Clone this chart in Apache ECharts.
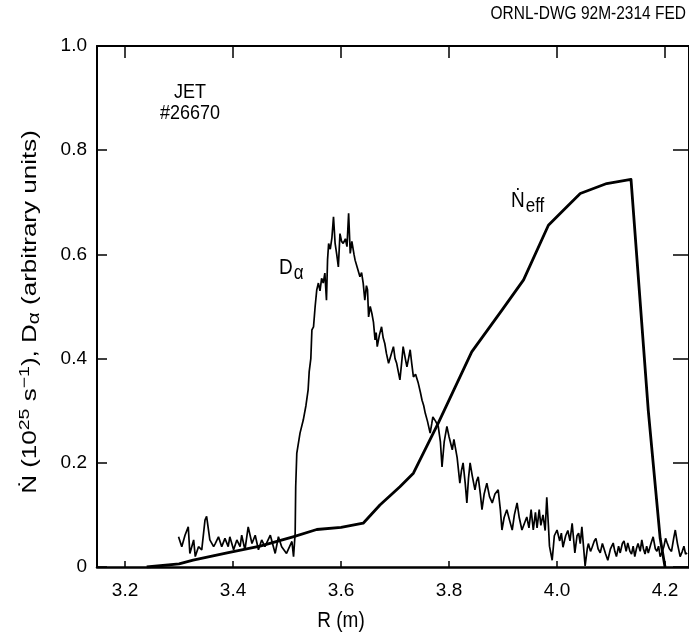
<!DOCTYPE html>
<html>
<head>
<meta charset="utf-8">
<script src="https://cdn.jsdelivr.net/npm/echarts@6/dist/echarts.min.js"></script>
<style>
html,body{margin:0;padding:0;background:#fff;}
#c{width:689px;height:635px;}
</style>
</head>
<body>
<div id="c"></div>
<script>
// ---- data ----
const xTicks = [3.2, 3.4, 3.6, 3.8, 4.0, 4.2];
const yTicks = [0, 0.2, 0.4, 0.6, 0.8, 1.0];

// N_eff (thick curve)
const rN   = [3.24, 3.30, 3.326, 3.389, 3.45, 3.511, 3.555, 3.60, 3.641, 3.672, 3.709, 3.734, 3.780, 3.842, 3.898, 3.938, 3.984, 4.009, 4.043, 4.092, 4.137, 4.169, 4.191, 4.200];
const nEff = [0.000, 0.006, 0.013, 0.027, 0.040, 0.058, 0.072, 0.076, 0.084, 0.119, 0.154, 0.180, 0.276, 0.413, 0.493, 0.551, 0.656, 0.682, 0.717, 0.736, 0.744, 0.300, 0.055, 0.000];

// D_alpha (noisy trace): R values and intensities
const rD = [
  3.299, 3.305, 3.311, 3.317, 3.320, 3.327, 3.330, 3.336, 3.342, 3.348, 3.351, 3.357, 3.364, 3.367, 3.373, 3.379, 3.385, 3.391, 3.394, 3.401,
  3.407, 3.413, 3.416, 3.422, 3.428, 3.435, 3.441, 3.447, 3.453, 3.459, 3.469, 3.478, 3.484, 3.490, 3.499, 3.509, 3.512, 3.515, 3.516, 3.518,
  3.524, 3.530, 3.535, 3.539, 3.541, 3.544, 3.546, 3.549, 3.552, 3.555, 3.558, 3.561, 3.564, 3.567, 3.570, 3.573, 3.575, 3.577, 3.580, 3.583,
  3.586, 3.589, 3.592, 3.595, 3.598, 3.601, 3.604, 3.608, 3.611, 3.614, 3.617, 3.620, 3.622, 3.624, 3.626, 3.630, 3.635, 3.638, 3.641, 3.644,
  3.647, 3.649, 3.651, 3.654, 3.657, 3.660, 3.663, 3.665, 3.667, 3.671, 3.675, 3.678, 3.681, 3.684, 3.688, 3.692, 3.697, 3.700, 3.703, 3.706,
  3.709, 3.712, 3.715, 3.719, 3.722, 3.725, 3.728, 3.731, 3.734, 3.738, 3.743, 3.747, 3.750, 3.753, 3.756, 3.760, 3.765, 3.768, 3.770, 3.775,
  3.780, 3.784, 3.787, 3.791, 3.796, 3.800, 3.806, 3.809, 3.811, 3.815, 3.820, 3.823, 3.826, 3.830, 3.833, 3.836, 3.839, 3.843, 3.848, 3.851,
  3.854, 3.858, 3.861, 3.865, 3.870, 3.875, 3.880, 3.885, 3.891, 3.895, 3.898, 3.902, 3.907, 3.912, 3.917, 3.921, 3.926, 3.930, 3.935, 3.940,
  3.944, 3.948, 3.952, 3.956, 3.960, 3.963, 3.967, 3.970, 3.974, 3.978, 3.981, 3.984, 3.986, 3.991, 3.995, 4.000, 4.005, 4.008, 4.011, 4.016,
  4.020, 4.024, 4.028, 4.033, 4.037, 4.040, 4.043, 4.046, 4.049, 4.052, 4.056, 4.058, 4.062, 4.065, 4.069, 4.072, 4.076, 4.080, 4.084, 4.087,
  4.090, 4.094, 4.099, 4.104, 4.107, 4.110, 4.114, 4.117, 4.121, 4.124, 4.128, 4.131, 4.135, 4.138, 4.141, 4.144, 4.147, 4.150, 4.154, 4.157,
  4.160, 4.163, 4.166, 4.169, 4.174, 4.178, 4.182, 4.185, 4.188, 4.191, 4.195, 4.198, 4.201, 4.204, 4.208, 4.212, 4.216, 4.219, 4.223, 4.228,
  4.232, 4.235, 4.238, 4.241];
const dA = [
  0.058, 0.039, 0.061, 0.077, 0.026, 0.052, 0.020, 0.039, 0.033, 0.090, 0.097, 0.052, 0.039, 0.045, 0.058, 0.039, 0.055, 0.039, 0.058, 0.033,
  0.052, 0.039, 0.061, 0.033, 0.077, 0.045, 0.061, 0.033, 0.052, 0.039, 0.061, 0.026, 0.058, 0.039, 0.026, 0.049, 0.020, 0.065, 0.154, 0.218,
  0.257, 0.282, 0.310, 0.340, 0.375, 0.400, 0.455, 0.461, 0.500, 0.532, 0.545, 0.530, 0.554, 0.545, 0.564, 0.512, 0.590, 0.621, 0.610, 0.631,
  0.672, 0.621, 0.600, 0.576, 0.640, 0.625, 0.621, 0.630, 0.615, 0.679, 0.602, 0.625, 0.628, 0.600, 0.589, 0.575, 0.557, 0.565, 0.545, 0.512,
  0.540, 0.532, 0.480, 0.500, 0.487, 0.470, 0.436, 0.450, 0.423, 0.445, 0.461, 0.440, 0.429, 0.410, 0.391, 0.405, 0.423, 0.400, 0.391, 0.375,
  0.359, 0.390, 0.423, 0.400, 0.384, 0.400, 0.417, 0.390, 0.365, 0.370, 0.353, 0.335, 0.320, 0.310, 0.295, 0.280, 0.257, 0.275, 0.288, 0.280,
  0.270, 0.240, 0.192, 0.240, 0.270, 0.250, 0.225, 0.245, 0.244, 0.210, 0.161, 0.185, 0.200, 0.160, 0.123, 0.170, 0.200, 0.175, 0.148, 0.165,
  0.173, 0.140, 0.110, 0.140, 0.161, 0.135, 0.123, 0.140, 0.148, 0.110, 0.071, 0.095, 0.110, 0.090, 0.071, 0.100, 0.123, 0.095, 0.071, 0.085,
  0.096, 0.075, 0.110, 0.071, 0.105, 0.075, 0.110, 0.080, 0.100, 0.070, 0.134, 0.080, 0.040, 0.013, 0.060, 0.071, 0.050, 0.065, 0.038, 0.060,
  0.070, 0.050, 0.084, 0.027, 0.060, 0.065, 0.045, 0.077, 0.040, 0.002, 0.035, 0.045, 0.030, 0.038, 0.050, 0.055, 0.035, 0.027, 0.045, 0.045,
  0.025, 0.013, 0.035, 0.046, 0.030, 0.020, 0.040, 0.027, 0.045, 0.050, 0.030, 0.046, 0.030, 0.025, 0.040, 0.020, 0.035, 0.045, 0.030, 0.052,
  0.035, 0.025, 0.040, 0.027, 0.045, 0.058, 0.035, 0.030, 0.040, 0.020, 0.030, 0.040, 0.055, 0.046, 0.035, 0.030, 0.055, 0.071, 0.045, 0.020,
  0.030, 0.040, 0.025, 0.027];

const FONT = "'Liberation Sans', Arial, Helvetica, sans-serif";

const chart = echarts.init(document.getElementById('c'), null, {renderer: 'canvas'});

const tickLabelFmt = v => v === 0 ? '0' : v.toFixed(1);

const option = {
  backgroundColor: '#fff',
  animation: false,
  grid: {left: 97, right: 0, top: 46, bottom: 68, containLabel: false},
  xAxis: [
    {
      type: 'value', min: 3.148, max: 4.2444, position: 'bottom',
      axisLine: {show: true, onZero: false, lineStyle: {color: '#000', width: 2.5}},
      axisTick: {show: true, inside: true, length: 6, customValues: xTicks, lineStyle: {color: '#000', width: 1.5}},
      axisLabel: {show: true, customValues: xTicks, formatter: v => v.toFixed(1), color: '#000', fontSize: 19, fontFamily: FONT, margin: 14},
      splitLine: {show: false}
    },
    {
      type: 'value', min: 3.148, max: 4.2444, position: 'top',
      axisLine: {show: true, onZero: false, lineStyle: {color: '#000', width: 2}},
      axisTick: {show: true, inside: true, length: 12, customValues: xTicks, lineStyle: {color: '#000', width: 1.5}},
      axisLabel: {show: false},
      splitLine: {show: false}
    }
  ],
  yAxis: [
    {
      type: 'value', min: 0, max: 1, interval: 0.2, position: 'left',
      axisLine: {show: true, onZero: false, lineStyle: {color: '#000', width: 2}},
      axisTick: {show: true, inside: true, length: 10, lineStyle: {color: '#000', width: 1.5}},
      axisLabel: {show: true, formatter: tickLabelFmt, color: '#000', fontSize: 19, fontFamily: FONT, margin: 10},
      splitLine: {show: false}
    },
    {
      type: 'value', min: 0, max: 1, interval: 0.2, position: 'right',
      axisLine: {show: true, onZero: false, lineStyle: {color: '#000', width: 2}},
      axisTick: {show: true, inside: true, length: 16, lineStyle: {color: '#000', width: 1.5}},
      axisLabel: {show: false},
      splitLine: {show: false}
    }
  ],
  series: [
    {
      name: 'Dalpha', type: 'line', xAxisIndex: 0, yAxisIndex: 0,
      data: rD.map((r, i) => [r, dA[i]]),
      showSymbol: false, symbol: 'none',
      lineStyle: {color: '#000', width: 1.7}
    },
    {
      name: 'Neff', type: 'line', xAxisIndex: 0, yAxisIndex: 0,
      data: rN.map((r, i) => [r, nEff[i]]),
      showSymbol: false, symbol: 'none',
      lineStyle: {color: '#000', width: 2.8, join: 'round'}
    }
  ],
  graphic: [
    {
      type: 'text', x: 686, y: 14, scaleY: 1.15,
      style: {text: 'ORNL-DWG 92M-2314 FED', fill: '#000', font: "15.5px " + FONT, align: 'right', verticalAlign: 'middle'}
    },
    {
      type: 'text', x: 341, y: 621, scaleY: 1.2,
      style: {text: 'R (m)', fill: '#000', font: "19px " + FONT, align: 'center', verticalAlign: 'middle'}
    },
    {
      type: 'text', x: 190, y: 92, scaleY: 1.15,
      style: {text: 'JET', fill: '#000', font: "18px " + FONT, align: 'center', verticalAlign: 'middle'}
    },
    {
      type: 'text', x: 190, y: 113, scaleY: 1.15,
      style: {text: '#26670', fill: '#000', font: "18px " + FONT, align: 'center', verticalAlign: 'middle'}
    },
    {
      type: 'text', x: 279, y: 268, scaleY: 1.15,
      style: {
        text: '{a|D}{s|α}', verticalAlign: 'middle',
        rich: {
          a: {fontSize: 19, fontFamily: FONT, fill: '#000', color: '#000'},
          s: {fontSize: 17, fontFamily: FONT, fill: '#000', color: '#000', padding: [10, 0, 0, 1]}
        }
      }
    },
    {
      type: 'text', x: 511, y: 201, scaleY: 1.15,
      style: {
        text: '{a|Ṅ}{s|eff}', verticalAlign: 'middle',
        rich: {
          a: {fontSize: 19, fontFamily: FONT, fill: '#000', color: '#000'},
          s: {fontSize: 17, fontFamily: FONT, fill: '#000', color: '#000', padding: [10, 0, 0, 1]}
        }
      }
    },
    {
      type: 'text', x: 30, y: 312, rotation: Math.PI / 2, scaleX: 1.3,
      style: {
        text: '{a|Ṅ (10}{p|25}{a| s}{p|−1}{a|), D}{s|α}{a| (arbitrary units)}',
        align: 'center', verticalAlign: 'middle',
        rich: {
          a: {fontSize: 20, fontFamily: FONT, fill: '#000', color: '#000'},
          p: {fontSize: 15, fontFamily: FONT, fill: '#000', color: '#000', padding: [0, 0, 11, 0]},
          s: {fontSize: 16, fontFamily: FONT, fill: '#000', color: '#000', padding: [9, 0, 0, 0]}
        }
      }
    }
  ]
};
chart.setOption(option);
</script>
</body>
</html>
